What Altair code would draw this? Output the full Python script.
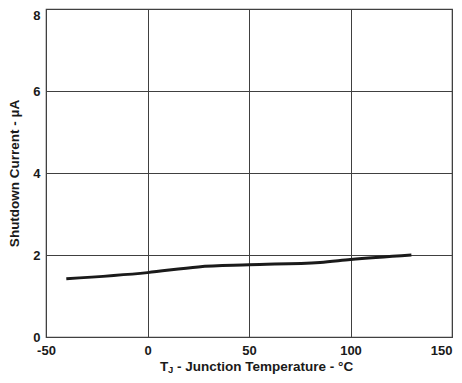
import altair as alt
import pandas as pd

temperature = [-40, 0, 25, 50, 85, 100, 130]
current = [1.42, 1.57, 1.71, 1.76, 1.82, 1.89, 2.00]
x_ticks = [-50, 0, 50, 100, 150]
y_ticks = [0, 2, 4, 6, 8]
y_title = "Shutdown Current - µA"
x_title_parts = ["T", "J", "- Junction Temperature - °C"]

df = pd.DataFrame({"T": temperature, "I": current})

FONT = "Liberation Sans"
GRID = "#404040"
TEXT = "#1a1a1a"

line = alt.Chart(df).mark_line(color="#1a1a1a", strokeWidth=3, interpolate="monotone").encode(
    x=alt.X("T:Q", scale=alt.Scale(domain=[-50, 150], nice=False, zero=False),
            axis=alt.Axis(values=x_ticks, title=None, grid=True, gridColor=GRID, gridOpacity=1,
                          ticks=False, domain=False, labelFont=FONT, labelFontWeight="bold",
                          labelFontSize=13, labelColor=TEXT, labelPadding=7,
                          labelExpr="datum.value < 0 ? '-' + abs(datum.value) : '' + datum.value",
                          labelFlush=False,
                          labelAlign={"condition": {"test": "datum.value == 150", "value": "right"}, "value": "center"})),
    y=alt.Y("I:Q", scale=alt.Scale(domain=[0, 8], nice=False),
            axis=alt.Axis(values=y_ticks, title=y_title, grid=True, gridColor=GRID, gridOpacity=1,
                          ticks=False, domain=False, labelFont=FONT, labelFontWeight="bold",
                          labelFontSize=13, labelColor=TEXT, labelPadding=6, format="d",
                          labelBaseline={"condition": {"test": "datum.value == 8", "value": "top"}, "value": "middle"},
                          titleFont=FONT, titleFontWeight="bold", titleFontSize=13.5,
                          titleColor=TEXT, titlePadding=11)),
)

def part(txt, x, y, size):
    return alt.Chart(pd.DataFrame({"label": [txt]})).mark_text(
        font=FONT, fontWeight="bold", fontSize=size, color=TEXT, align="left", baseline="alphabetic"
    ).encode(text="label:N", x=alt.value(x), y=alt.value(y))

t1 = part(x_title_parts[0], 114, 361.5, 13.5)
t2 = part(x_title_parts[1], 122, 363.5, 9.5)
t3 = part(x_title_parts[2], 131, 361.5, 13.5)

chart = alt.layer(line, t1, t2, t3).properties(
    width=406, height=328,
    autosize=alt.AutoSizeParams(type="none"),
    padding={"left": 38, "top": 1, "right": 2, "bottom": 38},
).configure_view(stroke=GRID, strokeWidth=1.2)

chart.save("out.html", embed_options={"renderer": "svg", "actions": False})
